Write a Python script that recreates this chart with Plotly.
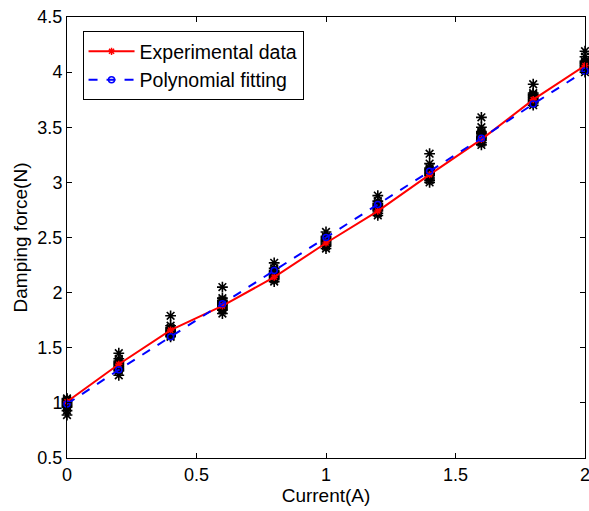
import plotly.graph_objects as go

current = [0, 0.2, 0.4, 0.6, 0.8, 1.0, 1.2, 1.4, 1.6, 1.8, 2.0]
experimental = [1.01, 1.35, 1.66, 1.88, 2.14, 2.45, 2.74, 3.07, 3.39, 3.75, 4.06]
polynomial = [0.99, 1.30, 1.60, 1.90, 2.20, 2.50, 2.80, 3.10, 3.40, 3.71, 4.01]

# repeated measurements at each current level
meas_values = [
    [1.04, 1.03, 1.02, 1.01, 1.00, 0.99, 0.98, 0.97, 0.96, 0.93, 0.89],
    [1.45, 1.40, 1.38, 1.37, 1.36, 1.35, 1.34, 1.33, 1.32, 1.31, 1.30, 1.29, 1.25],
    [1.79, 1.70, 1.68, 1.67, 1.66, 1.65, 1.64, 1.63, 1.62, 1.61, 1.60],
    [2.05, 1.95, 1.93, 1.92, 1.91, 1.90, 1.89, 1.88, 1.87, 1.86, 1.85, 1.84, 1.81],
    [2.27, 2.22, 2.20, 2.19, 2.18, 2.17, 2.16, 2.15, 2.14, 2.13, 2.12, 2.10],
    [2.55, 2.51, 2.50, 2.49, 2.48, 2.47, 2.46, 2.45, 2.44, 2.43, 2.42, 2.40],
    [2.88, 2.83, 2.81, 2.80, 2.79, 2.78, 2.77, 2.76, 2.75, 2.74, 2.72, 2.70],
    [3.26, 3.17, 3.13, 3.12, 3.11, 3.10, 3.09, 3.08, 3.07, 3.06, 3.04, 3.02, 3.00],
    [3.59, 3.50, 3.46, 3.45, 3.44, 3.42, 3.41, 3.40, 3.39, 3.38, 3.36, 3.34],
    [3.89, 3.81, 3.80, 3.79, 3.78, 3.77, 3.76, 3.75, 3.74, 3.73, 3.72, 3.70],
    [4.19, 4.14, 4.10, 4.09, 4.08, 4.07, 4.06, 4.05, 4.04, 4.03, 4.02, 4.00],
]

meas_x = []
meas_y = []
for xv, ys in zip(current, meas_values):
    for yv in ys:
        meas_x.append(xv)
        meas_y.append(yv)

x_ticks = [0, 0.5, 1, 1.5, 2]
y_ticks = [0.5, 1, 1.5, 2, 2.5, 3, 3.5, 4, 4.5]

font_family = "Liberation Sans, Arial, sans-serif"

fig = go.Figure()
fig.add_trace(go.Scatter(
    x=meas_x, y=meas_y, mode="markers", showlegend=False, cliponaxis=False,
    marker=dict(symbol="asterisk-open", size=9, color="black",
                line=dict(color="black", width=1.6)),
))
fig.add_trace(go.Scatter(
    x=current, y=experimental, mode="lines+markers", name="Experimental data",
    cliponaxis=False,
    line=dict(color="#ff0000", width=2),
    marker=dict(symbol="asterisk-open", size=6, color="#ff0000",
                line=dict(color="#ff0000", width=1.5)),
))
fig.add_trace(go.Scatter(
    x=current, y=polynomial, mode="lines+markers", name="Polynomial fitting",
    cliponaxis=False,
    line=dict(color="#0000ff", width=2, dash="dash"),
    marker=dict(symbol="circle-open", size=6, color="#0000ff",
                line=dict(color="#0000ff", width=1.5)),
))

axis_common = dict(
    showline=True, linecolor="black", linewidth=1, mirror="ticks",
    ticks="inside", ticklen=5, tickcolor="black", showgrid=False,
    zeroline=False, ticklabeloverflow="allow", automargin=False,
    tickfont=dict(size=18, color="black", family=font_family),
)

fig.update_layout(
    width=589, height=511,
    margin=dict(l=67, r=4, t=17, b=53),
    paper_bgcolor="white", plot_bgcolor="white",
    font=dict(family=font_family, color="black"),
    xaxis=dict(range=[0, 2], tickvals=x_ticks, ticktext=[str(t) for t in x_ticks],
               title=dict(text="Current(A)", font=dict(size=19), standoff=2),
               **axis_common),
    yaxis=dict(range=[0.5, 4.5], tickvals=y_ticks, ticktext=[str(t) for t in y_ticks],
               title=dict(text="Damping force(N)", font=dict(size=19), standoff=4),
               **axis_common),
    legend=dict(x=0.03, y=0.968, xanchor="left", yanchor="top",
                bordercolor="black", borderwidth=1, bgcolor="white",
                font=dict(size=19.5, family=font_family), tracegroupgap=0,
                itemwidth=46),
)

fig.write_html("out.html", config={"displayModeBar": False},
               post_script="document.body.style.margin='0';")
